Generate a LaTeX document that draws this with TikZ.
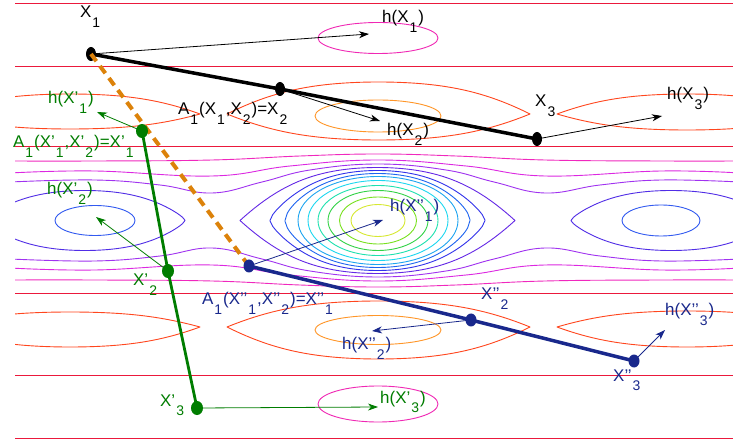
\documentclass[tikz,border=0pt]{standalone}
\usepackage{fontspec}
\setmainfont{Liberation Sans}
\usetikzlibrary{arrows.meta,shapes.geometric}
\definecolor{cred}{RGB}{235,25,60}
\definecolor{corr}{RGB}{255,70,30}
\definecolor{corg}{RGB}{255,150,40}
\definecolor{cmag}{RGB}{240,40,180}
\definecolor{cU1}{RGB}{240,40,190}
\definecolor{cU2}{RGB}{220,40,225}
\definecolor{cU3}{RGB}{160,50,240}
\definecolor{cL9}{RGB}{100,40,230}
\definecolor{cC8}{RGB}{50,50,235}
\definecolor{cC7}{RGB}{30,100,240}
\definecolor{cC6}{RGB}{30,165,240}
\definecolor{cC5}{RGB}{30,215,240}
\definecolor{cC4}{RGB}{30,225,175}
\definecolor{cC3}{RGB}{50,210,70}
\definecolor{cC2}{RGB}{120,225,30}
\definecolor{cC1}{RGB}{215,232,50}
\definecolor{cside}{RGB}{80,45,230}
\definecolor{csidein}{RGB}{50,90,240}
\definecolor{cgreen}{RGB}{0,125,0}
\definecolor{cnavy}{RGB}{25,40,140}
\definecolor{cdash}{RGB}{220,130,10}
\newcommand\lo[1]{\kern1pt\raisebox{-9.5pt}{\fontsize{14}{14}\selectfont #1}\kern1pt}
% color, cx, cy, w, Htop, Hbot, alpha
\newcommand\Lens[7]{%
  \draw[cl,#1] plot[domain=-1:1,samples=81,variable=\pp]
   ({#2+#4*(\pp)},{#3-#5*(#7*sqrt(max(0,1-(\pp)*(\pp)))+(1-#7)*(1.5*cos(90*(\pp))-0.5*cos(90*(\pp))*cos(90*(\pp))))})
   -- plot[domain=1:-1,samples=81,variable=\pp]
   ({#2+#4*(\pp)},{#3+#6*(#7*sqrt(max(0,1-(\pp)*(\pp)))+(1-#7)*(1.5*cos(90*(\pp))-0.5*cos(90*(\pp))*cos(90*(\pp))))}) -- cycle;}
\begin{document}
\begin{tikzpicture}[x=1bp,y=-1bp,line join=round,
  cl/.style={line width=0.9bp},
  lbl/.style={inner sep=0pt,anchor=base west,font=\fontsize{17}{19}\selectfont},
  arr/.style={line width=0.8bp,-{Stealth[length=10bp,width=7bp,inset=3bp]}},
  dotk/.style={ellipse,fill,inner sep=0pt,minimum width=10bp,minimum height=14bp},
  dotg/.style={ellipse,fill=cgreen,inner sep=0pt,minimum width=12bp,minimum height=14bp},
  dotn/.style={ellipse,fill=cnavy,inner sep=0pt,minimum width=11bp,minimum height=13bp}]
\useasboundingbox (0,0) rectangle (733,443);
\fill[white] (0,0) rectangle (733,443);

\begin{scope}
\clip (15,-5) rectangle (740,450);
% horizontal red levels
\foreach \yy in {3,66,146,293,375,438} \draw[cl,cred] (0,\yy) -- (740,\yy);
% row A and E
\draw[cl,cmag] (378,38) ellipse [x radius=60,y radius=15.5];
\draw[cl,cmag] (378,404) ellipse [x radius=60,y radius=18];
% row B
\Lens{corr}{70}{114}{130}{20}{15}{0}
\Lens{corr}{378.5}{114}{151.5}{32}{26}{0}
\Lens{corr}{687}{114}{130}{20}{16}{0}
\draw[cl,corg] (378,116) ellipse [x radius=63,y radius=16];
% row D
\Lens{corr}{70}{327}{130}{15}{20}{0}
\Lens{corr}{378.5}{327}{151.5}{26}{32}{0}
\Lens{corr}{687}{327}{130}{16}{20}{0}
\draw[cl,corg] (378,330) ellipse [x radius=63,y radius=14.5];
% row C open lines (upper)
\draw[cl,cU1] plot[smooth,tension=0.7] coordinates {(10,161) (95,161) (212,160) (300,156) (378,154) (456,156) (545,160) (661,161) (740,161)};
\draw[cl,cU2] plot[smooth,tension=0.7] coordinates {(10,173) (95,171) (212,176) (290,166) (378,160) (466,166) (545,176) (661,171) (740,173)};
\draw[cl,cU3] plot[smooth,tension=0.7] coordinates {(10,182) (95,180) (160,185) (212,193) (262,182) (310,170) (378,164) (446,170) (494,182) (545,193) (600,185) (661,180) (740,182)};
% row C open lines (lower)
\draw[cl,cU1] plot[smooth,tension=0.7] coordinates {(10,280) (95,280) (212,281) (300,285) (378,287) (456,285) (545,281) (661,280) (740,280)};
\draw[cl,cU2] plot[smooth,tension=0.7] coordinates {(10,268) (95,270) (212,265) (290,275) (378,281) (466,275) (545,265) (661,270) (740,268)};
\draw[cl,cU3] plot[smooth,tension=0.7] coordinates {(10,259) (95,261) (160,256) (212,248) (262,259) (310,271) (378,277) (446,271) (494,259) (545,248) (600,256) (661,261) (740,259)};
% side wells
\Lens{cside}{85}{220.5}{100}{30}{30}{0.3}
\draw[cl,csidein] (95,220.5) ellipse [x radius=40,y radius=15];
\Lens{cside}{671}{220.5}{100}{30}{30}{0.3}
\draw[cl,csidein] (661,220.5) ellipse [x radius=39,y radius=15.5];
% central well
\Lens{cL9}{377.5}{220.5}{137.5}{53}{53}{0}
\Lens{cC8}{377.5}{220.5}{107.5}{50}{50}{0.35}
\Lens{cC7}{377.5}{220.5}{92.5}{47}{47}{0.6}
\draw[cl,cC6] (378,220.5) ellipse [x radius=80,y radius=44];
\draw[cl,cC5] (378,220.5) ellipse [x radius=70,y radius=40];
\draw[cl,cC4] (378,220.5) ellipse [x radius=60,y radius=35];
\draw[cl,cC3] (378,220.5) ellipse [x radius=50,y radius=30];
\draw[cl,cC2] (378,220.5) ellipse [x radius=38.5,y radius=23.5];
\draw[cl,cC1] (378,220.5) ellipse [x radius=27,y radius=16];
\end{scope}

% points
\coordinate (X1) at (91,54);
\coordinate (X2) at (280,89);
\coordinate (X3) at (537,139);
\coordinate (Y1) at (142,131);
\coordinate (Y2) at (168,271);
\coordinate (Y3) at (197,408);
\coordinate (Z1) at (249,266);
\coordinate (Z2) at (471,320);
\coordinate (Z3) at (634,361);
\coordinate (hX1) at (369,34);
\coordinate (hX2) at (380,121);
\coordinate (hX3) at (662,116);
\coordinate (hY1) at (97,112);
\coordinate (hY2) at (96,217);
\coordinate (hY3) at (378,407);
\coordinate (hZ1) at (383,220);
\coordinate (hZ2) at (372,331);
\coordinate (hZ3) at (665,330);

% thick paths
\draw[line width=3.5bp] (X1) -- (X2) -- (X3);
\draw[line width=2.8bp,cgreen] (Y1) -- (Y2) -- (Y3);
\draw[line width=3.5bp,cnavy] (Z1) -- (Z2) -- (Z3);

% arrows
\draw[arr,black] (X1) -- (hX1);
\draw[arr,black] (X2) -- (hX2);
\draw[arr,black] (X3) -- (hX3);
\draw[arr,cgreen] (Y1) -- (hY1);
\draw[arr,cgreen] (Y2) -- (hY2);
\draw[arr,cgreen] (Y3) -- (hY3);
\draw[arr,cnavy] (Z1) -- (hZ1);
\draw[arr,cnavy] (Z2) -- (hZ2);
\draw[arr,cnavy] (Z3) -- (hZ3);

% dots
\node[dotk] (nX1) at (X1) {};
\draw[line width=4bp,cdash,dash pattern=on 9bp off 6bp] (X1) -- (Z1);
\node[dotk] (nX2) at (X2) {};
\node[dotk] (nX3) at (X3) {};
\node[dotg] (nY1) at (Y1) {};
\node[dotg] (nY2) at (Y2) {};
\node[dotg] (nY3) at (Y3) {};
\node[dotn] (nZ1) at (Z1) {};
\node[dotn] (nZ2) at (Z2) {};
\node[dotn] (nZ3) at (Z3) {};

% labels black
\node[lbl] (lX1) at (80,18) {X\lo{1}};
\node[lbl] (lhX1) at (382,23) {h(X\lo{1})};
\node[lbl] (lA) at (178,115) {A\lo{1}(X\lo{1},X\lo{2})=X\lo{2}};
\node[lbl] (lhX2) at (387,136) {h(X\lo{2})};
\node[lbl] (lX3) at (535,107) {X\lo{3}};
\node[lbl] (lhX3) at (667,100) {h(X\lo{3})};
% labels green
\node[lbl,cgreen] (lhY1) at (48,104) {h(X’\lo{1})};
\node[lbl,cgreen] (lAY) at (13,148) {A\lo{1}(X’\lo{1},X’\lo{2})=X’\lo{1}};
\node[lbl,cgreen] (lhY2) at (47,195) {h(X’\lo{2})};
\node[lbl,cgreen] (lY2) at (133,286) {X’\lo{2}};
\node[lbl,cgreen] (lY3) at (160,406) {X’\lo{3}};
\node[lbl,cgreen] (lhY3) at (380,403) {h(X’\lo{3})};
% labels navy
\node[lbl,cnavy] (lhZ1) at (390,212) {h(X’’\lo{1})};
\node[lbl,cnavy] (lAZ) at (202,305) {A\lo{1}(X’’\lo{1},X’’\lo{2})=X’’\lo{1}};
\node[lbl,cnavy] (lZ2) at (481,300) {X’’\lo{2}};
\node[lbl,cnavy] (lhZ2) at (342,350) {h(X’’\lo{2})};
\node[lbl,cnavy] (lZ3) at (613,381) {X’’\lo{3}};
\node[lbl,cnavy] (lhZ3) at (665,316) {h(X’’\lo{3})};
\end{tikzpicture}
\end{document}
